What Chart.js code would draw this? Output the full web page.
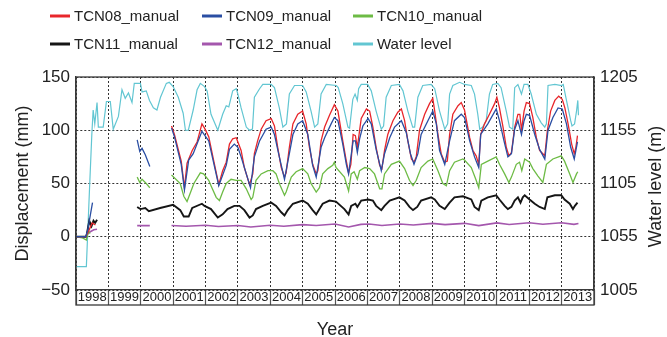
<!DOCTYPE html>
<html><head><meta charset="utf-8">
<script src="https://cdn.jsdelivr.net/npm/chart.js@4.4.0/dist/chart.umd.min.js"></script>
<style>html,body{margin:0;padding:0;background:#fff;}canvas{display:block;}</style>
</head><body>
<canvas id="c" width="667" height="337"></canvas>
<script>
// ---------- data (decimal year, value); null marks a gap ----------
const years = [1998,1999,2000,2001,2002,2003,2004,2005,2006,2007,2008,2009,2010,2011,2012,2013];
const seriesNames = ['TCN08_manual','TCN09_manual','TCN10_manual','TCN11_manual','TCN12_manual','Water level'];
const dispTicks = [-50,0,50,100,150];
const levelTicks = [1005,1055,1105,1155,1205];

const tcn08 = [[1998.00,0],[1998.30,0],[1998.40,6],[1998.50,13],[1998.60,11],[1999.50,null],
[2000.95,104],[2001.04,96],[2001.25,71],[2001.35,46],[2001.43,69],[2001.59,81],[2001.74,89],[2001.89,106],[2001.97,102],[2002.10,94],[2002.25,72],[2002.41,49],[2002.53,62],[2002.64,70],[2002.74,87],[2002.84,92],[2002.95,93],[2003.00,89],[2003.10,81],[2003.20,65],[2003.36,49],[2003.46,59],[2003.51,78],[2003.61,90],[2003.72,101],[2003.87,109],[2004.03,111],[2004.13,104],[2004.23,84],[2004.34,65],[2004.44,56],[2004.49,60],[2004.59,84],[2004.70,106],[2004.85,115],[2005.00,118],[2005.11,106],[2005.21,84],[2005.31,68],[2005.42,59],[2005.47,62],[2005.57,90],[2005.68,103],[2005.83,114],[2005.98,124],[2006.09,118],[2006.24,90],[2006.35,71],[2006.42,60],[2006.49,68],[2006.56,96],[2006.63,95],[2006.69,84],[2006.73,93],[2006.81,111],[2006.97,120],[2007.07,118],[2007.17,103],[2007.27,84],[2007.38,67],[2007.45,64],[2007.53,81],[2007.63,96],[2007.79,109],[2007.94,117],[2008.05,120],[2008.15,109],[2008.25,90],[2008.36,73],[2008.44,70],[2008.51,75],[2008.61,100],[2008.77,115],[2008.92,125],[2009.02,130],[2009.08,118],[2009.18,96],[2009.28,78],[2009.39,70],[2009.47,71],[2009.54,96],[2009.64,115],[2009.80,123],[2009.90,126],[2010.00,119],[2010.16,93],[2010.26,81],[2010.36,76],[2010.44,68],[2010.50,96],[2010.62,106],[2010.77,115],[2010.93,125],[2011.00,131],[2011.08,121],[2011.19,103],[2011.29,84],[2011.37,76],[2011.45,79],[2011.55,103],[2011.65,115],[2011.71,115],[2011.76,100],[2011.84,118],[2011.91,126],[2012.01,125],[2012.11,112],[2012.22,93],[2012.32,81],[2012.48,76],[2012.56,100],[2012.66,118],[2012.79,128],[2012.91,132],[2013.02,129],[2013.10,121],[2013.20,106],[2013.31,87],[2013.39,78],[2013.44,84],[2013.49,95]];

const tcn09 = [[1998.00,0],[1998.30,0],[1998.36,6],[1998.51,32],[1999.00,null],
[1999.89,91],[1999.97,80],[2000.04,83],[2000.14,77],[2000.28,66],[2000.60,null],
[2000.95,102],[2001.04,94],[2001.25,68],[2001.35,44],[2001.48,72],[2001.62,78],[2001.89,99],[2002.10,90],[2002.41,48],[2002.64,67],[2002.74,82],[2002.89,87],[2003.00,84],[2003.10,75],[2003.26,59],[2003.39,46],[2003.51,75],[2003.67,90],[2003.87,101],[2004.03,103],[2004.13,96],[2004.28,75],[2004.44,54],[2004.59,78],[2004.70,96],[2004.85,106],[2005.00,109],[2005.16,96],[2005.31,67],[2005.42,56],[2005.57,84],[2005.68,93],[2005.88,106],[2005.98,112],[2006.09,109],[2006.24,87],[2006.35,68],[2006.42,59],[2006.56,90],[2006.63,90],[2006.69,79],[2006.76,92],[2006.86,104],[2007.02,111],[2007.12,106],[2007.27,82],[2007.43,62],[2007.53,78],[2007.69,93],[2007.84,103],[2008.05,109],[2008.20,98],[2008.33,78],[2008.44,68],[2008.56,78],[2008.66,96],[2008.87,109],[2009.02,118],[2009.13,106],[2009.23,81],[2009.39,68],[2009.54,90],[2009.69,109],[2009.90,115],[2010.00,112],[2010.16,90],[2010.31,75],[2010.44,65],[2010.50,96],[2010.72,106],[2010.98,120],[2011.08,109],[2011.22,90],[2011.34,75],[2011.45,78],[2011.55,101],[2011.65,109],[2011.76,96],[2011.84,109],[2011.91,115],[2012.01,114],[2012.17,96],[2012.32,82],[2012.48,73],[2012.58,100],[2012.73,112],[2012.89,121],[2013.02,120],[2013.15,106],[2013.28,84],[2013.39,73],[2013.49,89]];

const tcn10 = [[1998.00,0],[1998.20,-1],[1998.32,-3],[1998.38,5],[1998.44,3],[1999.00,null],
[1999.89,56],[1999.97,51],[2000.04,54],[2000.14,51],[2000.28,46],[2000.60,null],
[2000.95,58],[2001.22,50],[2001.33,38],[2001.43,33],[2001.53,41],[2001.64,50],[2001.84,60],[2001.94,59],[2002.10,53],[2002.17,48],[2002.33,37],[2002.43,34],[2002.53,42],[2002.64,50],[2002.79,54],[2002.95,53],[2003.10,53],[2003.26,45],[2003.41,35],[2003.46,37],[2003.56,53],[2003.72,59],[2003.93,62],[2004.08,62],[2004.18,59],[2004.28,50],[2004.44,39],[2004.49,42],[2004.65,56],[2004.80,61],[2005.00,64],[2005.16,59],[2005.26,50],[2005.42,42],[2005.52,46],[2005.62,59],[2005.78,64],[2005.93,67],[2005.98,70],[2006.03,65],[2006.29,56],[2006.42,43],[2006.50,59],[2006.59,61],[2006.69,54],[2006.76,62],[2006.92,65],[2007.07,64],[2007.22,59],[2007.38,45],[2007.45,45],[2007.53,59],[2007.74,68],[2007.99,71],[2008.15,64],[2008.30,53],[2008.41,48],[2008.51,53],[2008.66,65],[2008.87,71],[2009.02,73],[2009.18,62],[2009.33,50],[2009.44,48],[2009.54,62],[2009.69,70],[2009.95,73],[2010.00,72],[2010.21,65],[2010.36,53],[2010.44,46],[2010.52,68],[2010.72,71],[2010.98,75],[2011.08,68],[2011.24,59],[2011.37,51],[2011.45,56],[2011.60,68],[2011.70,70],[2011.77,62],[2011.86,73],[2012.01,70],[2012.11,64],[2012.27,57],[2012.42,51],[2012.53,68],[2012.73,73],[2012.99,76],[2013.09,71],[2013.25,59],[2013.35,51],[2013.46,59],[2013.50,61]];

const tcn11 = [[1998.00,0],[1998.32,0],[1998.41,15],[1998.48,10],[1998.54,15],[1998.59,13],[1998.65,16],[1999.00,null],
[1999.89,28],[1999.99,26],[2000.14,27],[2000.25,24],[2000.60,27],[2001.00,30],[2001.22,25],[2001.33,19],[2001.48,19],[2001.59,27],[2001.89,31],[2001.97,29],[2002.17,26],[2002.38,18],[2002.53,21],[2002.68,26],[2002.89,29],[2003.05,29],[2003.20,25],[2003.36,18],[2003.46,20],[2003.56,26],[2003.77,29],[2004.03,32],[2004.18,29],[2004.34,23],[2004.44,20],[2004.54,25],[2004.70,31],[2005.00,34],[2005.16,31],[2005.31,25],[2005.42,21],[2005.52,26],[2005.62,31],[2005.83,34],[2006.03,33],[2006.29,26],[2006.42,21],[2006.50,29],[2006.63,31],[2006.69,28],[2006.81,34],[2007.02,35],[2007.17,34],[2007.27,29],[2007.43,25],[2007.53,29],[2007.69,34],[2007.99,37],[2008.15,34],[2008.30,28],[2008.41,25],[2008.54,28],[2008.66,34],[2008.97,37],[2009.08,35],[2009.23,29],[2009.39,26],[2009.54,32],[2009.69,37],[2009.95,38],[2010.21,35],[2010.31,28],[2010.44,25],[2010.52,34],[2010.72,37],[2010.98,39],[2011.08,35],[2011.24,29],[2011.34,26],[2011.45,28],[2011.55,34],[2011.65,37],[2011.73,32],[2011.80,37],[2011.86,39],[2012.01,35],[2012.17,31],[2012.32,28],[2012.48,26],[2012.56,37],[2012.79,39],[2012.99,39],[2013.09,35],[2013.25,31],[2013.35,26],[2013.41,29],[2013.49,32]];

const tcn12 = [[1998.00,0],[1998.29,0],[1998.40,4],[1998.55,6.5],[1998.65,7],[1999.00,null],
[1999.89,10.4],[2000.05,10.6],[2000.28,10.4],[2000.60,null],
[2000.95,10.6],[2001.40,9.8],[2002.00,10.8],[2002.40,9.6],[2003.00,10.6],[2003.40,9.2],[2004.00,10.8],[2004.42,9.8],[2005.00,11.4],[2005.42,10.6],[2006.00,12],[2006.42,9.2],[2006.80,11.6],[2007.05,12],[2007.45,10.6],[2008.00,12],[2008.42,11],[2009.00,12.6],[2009.40,11.4],[2010.00,12.6],[2010.44,10.5],[2011.00,13],[2011.38,11.5],[2012.00,13.2],[2012.42,11.8],[2013.00,13.2],[2013.38,11.6],[2013.52,12.4]];

const waterLevel = [[1998.00,1027],[1998.32,1027],[1998.42,1102],[1998.49,1152],[1998.53,1174],[1998.58,1161],[1998.65,1181],[1998.69,1158],[1998.84,1158],[1998.94,1182],[1999.06,1182],[1999.15,1156],[1999.31,1168],[1999.42,1193],[1999.52,1185],[1999.62,1190],[1999.73,1181],[1999.80,1199],[1999.99,1199],[2000.04,1191],[2000.17,1192],[2000.27,1183],[2000.39,1176],[2000.50,1174],[2000.61,1186],[2000.79,1199],[2000.88,1200],[2001.00,1196],[2001.16,1186],[2001.31,1171],[2001.38,1155],[2001.47,1155],[2001.62,1174],[2001.74,1193],[2001.84,1199],[2001.97,1196],[2002.05,1192],[2002.17,1170],[2002.38,1155],[2002.53,1170],[2002.64,1178],[2002.72,1177],[2002.84,1192],[2002.95,1194],[2003.00,1189],[2003.10,1176],[2003.26,1158],[2003.36,1155],[2003.45,1156],[2003.51,1186],[2003.67,1194],[2003.77,1198],[2004.03,1198],[2004.13,1195],[2004.28,1176],[2004.39,1158],[2004.50,1161],[2004.59,1189],[2004.75,1197],[2005.00,1197],[2005.11,1191],[2005.26,1173],[2005.37,1158],[2005.47,1161],[2005.57,1189],[2005.73,1198],[2006.04,1197],[2006.10,1195],[2006.24,1180],[2006.40,1158],[2006.45,1157],[2006.55,1184],[2006.62,1189],[2006.69,1183],[2006.73,1194],[2006.81,1198],[2007.01,1198],[2007.12,1192],[2007.27,1173],[2007.43,1156],[2007.50,1159],[2007.58,1186],[2007.74,1197],[2007.99,1198],[2008.10,1192],[2008.25,1173],[2008.40,1158],[2008.46,1158],[2008.56,1186],[2008.71,1197],[2008.97,1198],[2009.08,1194],[2009.23,1173],[2009.39,1156],[2009.48,1161],[2009.54,1189],[2009.64,1197],[2009.85,1200],[2010.00,1198],[2010.21,1197],[2010.31,1189],[2010.41,1170],[2010.47,1156],[2010.56,1158],[2010.67,1164],[2010.77,1189],[2010.87,1198],[2011.03,1199],[2011.13,1195],[2011.29,1173],[2011.39,1158],[2011.49,1156],[2011.55,1195],[2011.65,1198],[2011.76,1189],[2011.84,1198],[2011.96,1198],[2012.06,1189],[2012.22,1170],[2012.37,1162],[2012.48,1158],[2012.53,1161],[2012.58,1197],[2012.79,1198],[2013.00,1197],[2013.05,1198],[2013.15,1183],[2013.28,1164],[2013.32,1159],[2013.40,1161],[2013.46,1173],[2013.50,1183],[2013.52,1169]];

// ---------- chart ----------
const FONT = '"Liberation Sans", Arial, Helvetica, sans-serif';
Chart.defaults.font.family = FONT;
Chart.defaults.color = '#222';
const toXY = arr => arr.map(p => ({x: p[0], y: p[1]}));
const seriesData = [tcn08, tcn09, tcn10, tcn11, tcn12, waterLevel];
const colors = ['#e8262b', '#2a4ea3', '#6dbb45', '#151515', '#a457ad', '#62c6d2'];
const widths = [1.3, 1.3, 1.3, 1.9, 1.6, 1.2];
const orders = [2, 1, 3, 4, 5, 6];
const rightTitle = 'Water level (m)';

const datasets = seriesData.map((d, i) => ({
  label: seriesNames[i],
  data: toXY(d),
  borderColor: colors[i],
  backgroundColor: colors[i],
  borderWidth: widths[i],
  pointRadius: 0,
  tension: 0,
  spanGaps: false,
  order: orders[i],
  yAxisID: i === 5 ? 'y2' : 'y'
}));

const whole = v => Math.abs(v - Math.round(v)) < 1e-6;
const TRANSPARENT = 'rgba(0,0,0,0)';

const framePlugin = {
  id: 'frameAndLegend',
  afterDraw(chart) {
    const {ctx, chartArea} = chart;
    const xs = chart.scales.x, y2 = chart.scales.y2;
    ctx.save();
    // outer frame including the year band
    ctx.strokeStyle = '#3a3a3a';
    ctx.lineWidth = 1.3;
    ctx.strokeRect(chartArea.left, chartArea.top, chartArea.right - chartArea.left, xs.top + 15 - chartArea.top);
    // right axis title, reading bottom-to-top like the left one
    ctx.save();
    ctx.translate(y2.right - 11, (chartArea.top + chartArea.bottom) / 2 + 3);
    ctx.rotate(-Math.PI / 2);
    ctx.font = '18px ' + FONT;
    ctx.fillStyle = '#222';
    ctx.textAlign = 'center';
    ctx.textBaseline = 'middle';
    ctx.fillText(rightTitle, 0, 0);
    ctx.restore();
    // legend (3 columns x 2 rows)
    const colX = [50, 202, 353];
    const rowY = [16, 44];
    ctx.font = '15px ' + FONT;
    ctx.textBaseline = 'middle';
    ctx.textAlign = 'left';
    chart.data.datasets.forEach((ds, i) => {
      const x = colX[i % 3], y = rowY[Math.floor(i / 3)];
      ctx.strokeStyle = ds.borderColor;
      ctx.lineWidth = 3;
      ctx.beginPath();
      ctx.moveTo(x, y);
      ctx.lineTo(x + 20, y);
      ctx.stroke();
      ctx.fillStyle = '#222';
      ctx.fillText(ds.label, x + 24, y + 1);
    });
    ctx.restore();
  }
};

new Chart(document.getElementById('c'), {
  type: 'line',
  data: {datasets},
  plugins: [framePlugin],
  options: {
    responsive: false,
    animation: false,
    devicePixelRatio: 1,
    layout: {padding: {top: 77, left: 0, right: 0, bottom: 0}},
    plugins: {legend: {display: false}, tooltip: {enabled: false}},
    scales: {
      x: {
        type: 'linear', position: 'bottom', min: 1998, max: 2014,
        afterBuildTicks: s => {
          const t = [];
          years.forEach(y => { t.push({value: y}); t.push({value: y + 0.5}); });
          t.push({value: years[years.length - 1] + 1});
          s.ticks = t;
        },
        afterFit: s => { s.height = 47; },
        grid: {
          color: c => (c.tick && whole(c.tick.value)) ? '#333' : TRANSPARENT,
          lineWidth: 1,
          drawTicks: true, tickLength: 15,
          tickColor: c => (c.tick && whole(c.tick.value)) ? '#555' : TRANSPARENT,
          tickWidth: 1.2
        },
        border: {display: true, color: '#3a3a3a', width: 1.3, dash: [2, 2]},
        ticks: {
          autoSkip: false, maxRotation: 0, minRotation: 0, padding: -15,
          font: {size: 13}, color: '#222',
          callback: v => whole(v) ? '' : String(years[Math.floor(v) - years[0]])
        },
        title: {display: true, text: 'Year', font: {size: 18, lineHeight: 1}, color: '#222', padding: {top: 0, bottom: -2}}
      },
      y: {
        position: 'left', min: -50, max: 150,
        afterBuildTicks: s => { s.ticks = dispTicks.map(v => ({value: v})); },
        afterFit: s => { s.width = 76; },
        grid: {color: '#333', lineWidth: 1, drawTicks: false},
        border: {display: true, color: '#3a3a3a', width: 1.3, dash: [2, 2]},
        ticks: {padding: 6, font: {size: 17}, color: '#222', callback: v => v < 0 ? '\u2212' + Math.abs(v) : String(v)},
        title: {display: true, text: 'Displacement (mm)', font: {size: 18}, color: '#222', padding: {top: 12, bottom: 0}}
      },
      y2: {
        position: 'right', min: 1005, max: 1205,
        afterBuildTicks: s => { s.ticks = levelTicks.map(v => ({value: v})); },
        afterFit: s => { s.width = 73; },
        grid: {drawOnChartArea: false, drawTicks: false},
        border: {display: true, color: '#3a3a3a', width: 1.3},
        ticks: {padding: 6, font: {size: 17}, color: '#222', callback: v => String(v)},
        title: {display: false}
      }
    }
  }
});
</script>
</body></html>
